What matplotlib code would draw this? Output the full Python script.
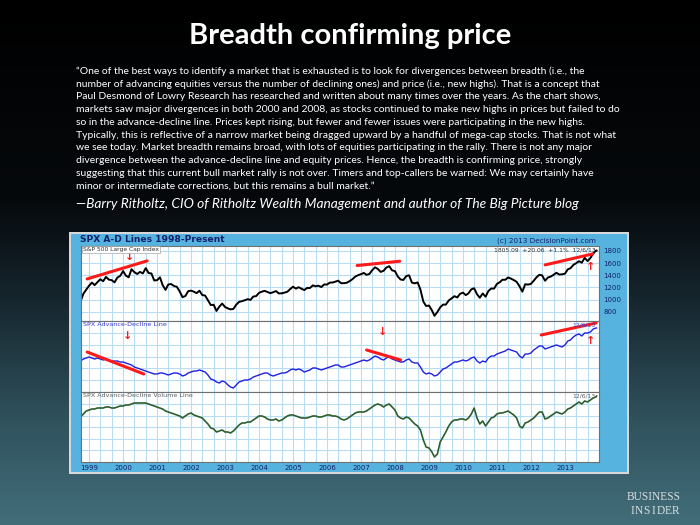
import numpy as np
import pandas as pd
import matplotlib
matplotlib.use("Agg")
import matplotlib.pyplot as plt
import matplotlib.dates as mdates
from matplotlib.patches import Rectangle

# ---- data (month-end values, last point 12/6/13) ----
spx = [970, 1098, 1164, 1229,
       1280, 1238, 1286, 1335, 1302, 1373, 1329, 1320, 1283, 1363, 1389, 1469,
       1394, 1366, 1499, 1452, 1421, 1455, 1431, 1518, 1437, 1429, 1315, 1320,
       1366, 1240, 1160, 1249, 1256, 1224, 1211, 1134, 1041, 1060, 1139, 1148,
       1130, 1107, 1147, 1076, 1067, 990, 912, 916, 815, 886, 936, 880,
       856, 841, 848, 917, 964, 975, 990, 1008, 996, 1051, 1058, 1112,
       1131, 1145, 1126, 1107, 1121, 1141, 1102, 1104, 1115, 1130, 1174, 1212,
       1181, 1204, 1181, 1157, 1192, 1191, 1234, 1220, 1229, 1207, 1249, 1248,
       1280, 1281, 1295, 1311, 1270, 1270, 1277, 1304, 1336, 1378, 1401, 1418,
       1438, 1407, 1421, 1482, 1531, 1503, 1455, 1474, 1527, 1549, 1481, 1468,
       1379, 1331, 1323, 1386, 1400, 1280, 1267, 1283, 1165, 969, 896, 903,
       826, 735, 798, 873, 919, 919, 987, 1021, 1057, 1036, 1096, 1115,
       1074, 1104, 1169, 1187, 1089, 1031, 1102, 1049, 1141, 1183, 1181, 1258,
       1286, 1327, 1326, 1364, 1345, 1321, 1292, 1219, 1131, 1253, 1247, 1258,
       1312, 1366, 1408, 1398, 1310, 1362, 1379, 1407, 1441, 1412, 1416, 1426,
       1498, 1515, 1569, 1598, 1631, 1606, 1686, 1633, 1682, 1757, 1806, 1805]

ad_line = [31, 33, 34, 35,
           34, 33, 34, 33, 32, 33, 32, 31, 31, 31, 30, 30,
           29, 28, 27, 25, 24, 23, 22, 21, 20, 19, 18, 18,
           19, 19, 18, 17, 18, 19, 19, 18, 16, 17, 19, 20,
           21, 21, 22, 21, 20, 17, 13, 12, 10, 9, 11, 10,
           7, 5, 4, 7, 10, 11, 12, 12, 13, 15, 16, 17,
           18, 19, 19, 17, 16, 17, 18, 19, 19, 20, 22, 23,
           22, 23, 22, 20, 21, 22, 24, 24, 23, 22, 23, 24,
           25, 26, 27, 27, 25, 25, 26, 27, 28, 29, 30, 31,
           32, 31, 32, 34, 36, 35, 33, 32, 34, 35, 33, 32,
           31, 30, 30, 32, 33, 30, 29, 29, 25, 20, 18, 19,
           18, 16, 17, 20, 23, 24, 26, 28, 30, 30, 31, 32,
           31, 32, 34, 35, 31, 29, 31, 30, 34, 36, 36, 38,
           39, 40, 41, 43, 42, 41, 40, 36, 34, 38, 38, 39,
           42, 44, 46, 46, 43, 44, 45, 46, 47, 46, 45, 47,
           51, 52, 55, 57, 58, 56, 59, 59, 60, 63, 64, 64]

ad_volume = [45, 48, 51, 52,
             53, 53, 54, 54, 54, 55, 55, 54, 54, 55, 56, 56,
             57, 57, 58, 59, 59, 59, 59, 59, 58, 57, 56, 55,
             54, 53, 51, 50, 49, 48, 47, 46, 44, 46, 48, 49,
             47, 46, 45, 44, 41, 38, 34, 33, 30, 31, 32, 30,
             30, 29, 31, 34, 37, 39, 39, 40, 40, 42, 44, 46,
             46, 45, 43, 42, 42, 43, 41, 42, 44, 46, 47, 47,
             46, 45, 44, 44, 44, 45, 46, 46, 45, 45, 46, 47,
             47, 46, 46, 45, 43, 42, 43, 45, 47, 49, 50, 50,
             50, 51, 53, 55, 57, 58, 57, 55, 57, 58, 55, 52,
             46, 44, 43, 45, 44, 41, 38, 36, 32, 22, 15, 14,
             10, 5, 8, 20, 25, 30, 36, 40, 42, 42, 43, 43,
             42, 44, 48, 54, 44, 38, 41, 36, 40, 44, 45, 48,
             49, 49, 50, 51, 49, 47, 44, 36, 34, 39, 40, 42,
             44, 47, 50, 50, 43, 44, 46, 48, 50, 49, 48, 50,
             53, 54, 56, 58, 60, 58, 61, 60, 62, 64, 65, 66]

dates = list(pd.date_range("1998-09-30", "2013-11-30", freq="ME")) + [pd.Timestamp("2013-12-06")]

years = list(range(1999, 2014))
price_ticks = [800, 1000, 1200, 1400, 1600, 1800]

# red divergence marks drawn on the chart: (start date, start value, end date, end value)
price_marks = [("1998-12-10", 1340, "2000-09-15", 1636),
               ("2006-11-20", 1560, "2008-02-20", 1630),
               ("2012-06-01", 1570, "2013-10-25", 1750)]
ad_marks = [("1998-12-10", 40, "2000-08-10", 18),
            ("2007-03-01", 42, "2008-03-01", 32),
            ("2012-04-20", 57, "2013-12-01", 69)]
# red arrow glyphs: (panel, date, value, glyph)
arrow_marks = [(0, "2000-03-15", 1700, "\u2193"),
               (0, "2013-10-01", 1530, "\u2191"),
               (1, "2000-02-15", 56, "\u2193"),
               (1, "2007-08-20", 60, "\u2193"),
               (1, "2013-10-01", 51, "\u2191")]

title = "Breadth confirming price"
quote = [
    "\u201cOne of the best ways to identify a market that is exhausted is to look for divergences between breadth (i.e., the",
    "number of advancing equities versus the number of declining ones) and price (i.e., new highs). That is a concept that",
    "Paul Desmond of Lowry Research has researched and written about many times over the years. As the chart shows,",
    "markets saw major divergences in both 2000 and 2008, as stocks continued to make new highs in prices but failed to do",
    "so in the advance-decline line. Prices kept rising, but fewer and fewer issues were participating in the new highs.",
    "Typically, this is reflective of a narrow market being dragged upward by a handful of mega-cap stocks. That is not what",
    "we see today. Market breadth remains broad, with lots of equities participating in the rally. There is not any major",
    "divergence between the advance-decline line and equity prices. Hence, the breadth is confirming price, strongly",
    "suggesting that this current bull market rally is not over. Timers and top-callers be warned: We may certainly have",
    "minor or intermediate corrections, but this remains a bull market.\u201d",
]
source = "\u2014Barry Ritholtz, CIO of Ritholtz Wealth Management and author of The Big Picture blog"

W, H = 700, 525
fig = plt.figure(figsize=(7, 5.25), dpi=100)

# slide background gradient
bg = fig.add_axes([0, 0, 1, 1])
stops_y = [0, 200, 300, 420, 525]
stops_c = np.array([[0, 0, 0], [6, 9, 12], [22, 38, 46], [48, 82, 93], [66, 110, 122]]) / 255
yy = np.arange(H)
grad = np.stack([np.interp(yy, stops_y, stops_c[:, k]) for k in range(3)], axis=1)
bg.imshow(np.repeat(grad[:, None, :], 2, axis=1), aspect="auto", extent=[0, W, H, 0])
bg.set_xlim(0, W)
bg.set_ylim(H, 0)
bg.axis("off")

bg.text(350, 36, title, color="white", fontsize=21, fontweight="bold", family="Lato",
        ha="center", va="center")
for i, line in enumerate(quote):
    bg.text(76, 71 + i * 12.8, line, color="white", fontsize=7.45, family="Lato",
            ha="left", va="center")
bg.text(76, 204, source, color="white", fontsize=9.9, family="Lato", style="italic",
        ha="left", va="center")

# chart frame
bg.add_patch(Rectangle((69, 232), 560, 242, facecolor="#d8d8d8", edgecolor="none"))
bg.add_patch(Rectangle((71, 234), 556, 238, facecolor="#56b3df", edgecolor="none"))
bg.text(80, 240, "SPX A-D Lines 1998-Present", color="#13206b", fontsize=6.6,
        fontweight="bold", family="DejaVu Sans", ha="left", va="center")
bg.text(596, 241, "(c) 2013 DecisionPoint.com", color="#13206b", fontsize=5.2,
        family="DejaVu Sans", ha="right", va="center")

# Business Insider logo (spaced small caps)
bg.text(654, 497, "BUSINESS", color="#d6dde0", fontsize=8.3, family="Liberation Serif",
        ha="center", va="center")
for k, ch in enumerate("INSIDER"):
    bg.text(632 + k * 7.3, 511, ch, color="#d6dde0", fontsize=8.3, family="Liberation Serif",
            ha="center", va="center")

x0, x1 = 81 / W, 599 / W
def panel(top, bottom):
    return fig.add_axes([x0, 1 - bottom / H, x1 - x0, (bottom - top) / H])

ax1 = panel(246, 321)
ax2 = panel(321, 392)
ax3 = panel(392, 462)
axes = [ax1, ax2, ax3]

xmin, xmax = pd.Timestamp("1998-10-05"), pd.Timestamp("2014-01-01")
grid_c = "#b8dcf2"
for ax in axes:
    ax.set_facecolor("white")
    ax.set_xlim(xmin, xmax)
    ax.xaxis.set_major_locator(mdates.YearLocator())
    ax.xaxis.set_minor_locator(mdates.MonthLocator(bymonth=[5, 9]))
    ax.grid(True, which="both", axis="x", color=grid_c, lw=0.8)
    ax.grid(True, which="major", axis="y", color=grid_c, lw=0.8)
    ax.tick_params(which="both", length=0, labelbottom=False, labelleft=False)
    for s in ax.spines.values():
        s.set_color("#707070")
        s.set_linewidth(0.8)
    ax.set_axisbelow(True)

ax1.plot(dates, spx, color="black", lw=1.4)
ax1.set_ylim(650, 1880)
ax1.set_yticks(price_ticks)
ax1.yaxis.tick_right()
ax1.tick_params(axis="y", labelright=True, labelsize=5, colors="#13206b", pad=3)

ax2.plot(dates, ad_line, color="#2020e0", lw=1.0)
ax2.set_ylim(0, 71)
ax2.set_yticks(np.arange(0, 71, 11.8))

ax3.plot(dates, ad_volume, color="#2d5e2d", lw=1.2)
ax3.set_ylim(0, 70)
ax3.set_yticks(np.arange(0, 70, 11.6))
ax3.set_xticks([pd.Timestamp(f"{y}-01-01") for y in years])
ax3.set_xticklabels([str(y) for y in years])
ax3.tick_params(axis="x", labelbottom=True, labelsize=5, colors="#13206b", pad=2)

for ax, marks in ((ax1, price_marks), (ax2, ad_marks)):
    for d0, v0, d1, v1 in marks:
        ax.plot([pd.Timestamp(d0), pd.Timestamp(d1)], [v0, v1], color="#ff1a1a", lw=2.2,
                solid_capstyle="round")

for i, d, v, g in arrow_marks:
    axes[i].text(pd.Timestamp(d), v, g, color="#ff1a1a", fontsize=8, fontweight="bold",
                 family="DejaVu Sans", ha="center", va="center")

# panel captions
ax1.text(0.004, 0.985, "S&P 500 Large Cap Index", transform=ax1.transAxes, fontsize=4.3,
         color="#303030", ha="left", va="top", family="DejaVu Sans",
         bbox=dict(facecolor="white", edgecolor="#909090", lw=0.4, pad=0.6))
ax1.text(0.993, 0.985, "1805.09  +20.06  +1.1%  12/6/13", transform=ax1.transAxes, fontsize=4.3,
         color="#303030", ha="right", va="top", family="DejaVu Sans")
ax2.text(0.004, 0.985, "SPX Advance-Decline Line", transform=ax2.transAxes, fontsize=4.6,
         color="#3a3ad0", ha="left", va="top", family="DejaVu Sans")
ax2.text(0.993, 0.985, "12/6/13", transform=ax2.transAxes, fontsize=4.3,
         color="#3a3ad0", ha="right", va="top", family="DejaVu Sans")
ax3.text(0.004, 0.985, "SPX Advance-Decline Volume Line", transform=ax3.transAxes, fontsize=4.6,
         color="#606060", ha="left", va="top", family="DejaVu Sans")
ax3.text(0.993, 0.985, "12/6/13", transform=ax3.transAxes, fontsize=4.3,
         color="#606060", ha="right", va="top", family="DejaVu Sans")

fig.savefig("out.png", dpi=100)
